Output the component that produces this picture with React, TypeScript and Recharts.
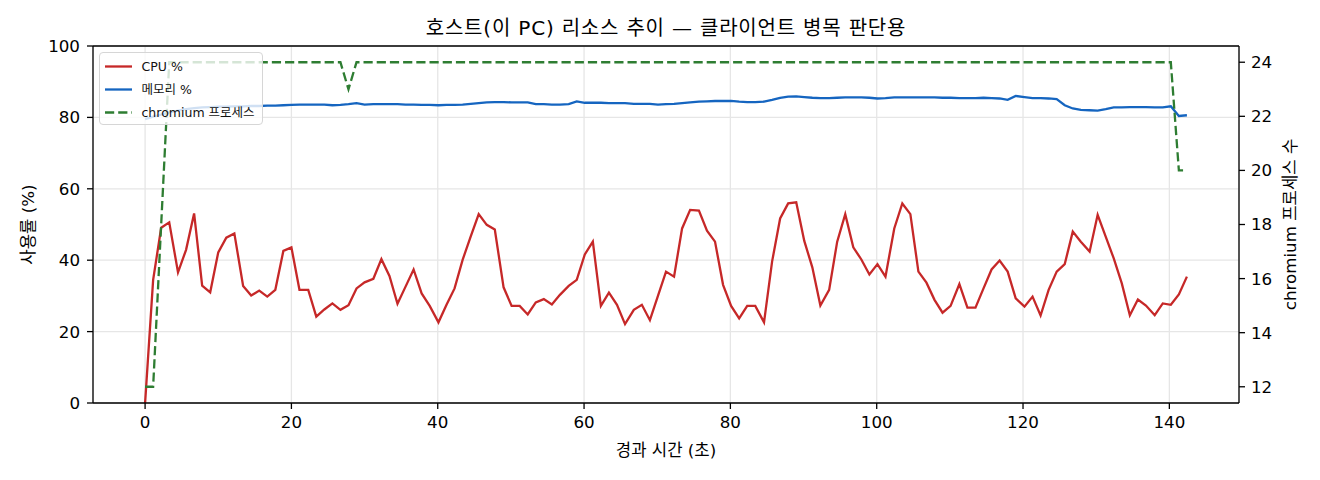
import React from 'react';
import { ComposedChart, Line, XAxis, YAxis, CartesianGrid, ReferenceLine, Legend, Label } from 'recharts';

const TITLE = '호스트(이 PC) 리소스 추이 — 클라이언트 병목 판단용';
const X_LABEL = '경과 시간 (초)';
const Y_LEFT_LABEL = '사용률 (%)';
const Y_RIGHT_LABEL = 'chromium 프로세스 수';

const X_TICKS = [0, 20, 40, 60, 80, 100, 120, 140];
const Y_LEFT_TICKS = [0, 20, 40, 60, 80, 100];
const Y_RIGHT_TICKS = [12, 14, 16, 18, 20, 22, 24];

const TIMES = [
  0.0, 1.1, 2.2, 3.3, 4.5, 5.6, 6.7, 7.8, 8.9, 10.0,
  11.1, 12.2, 13.4, 14.5, 15.6, 16.7, 17.8, 18.9, 20.0, 21.1,
  22.3, 23.4, 24.5, 25.6, 26.7, 27.8, 28.9, 30.0, 31.2, 32.3,
  33.4, 34.5, 35.6, 36.7, 37.8, 38.9, 40.1, 41.2, 42.3, 43.4,
  44.5, 45.6, 46.7, 47.8, 49.0, 50.1, 51.2, 52.3, 53.4, 54.5,
  55.6, 56.7, 57.9, 59.0, 60.1, 61.2, 62.3, 63.4, 64.5, 65.6,
  66.8, 67.9, 69.0, 70.1, 71.2, 72.3, 73.4, 74.5, 75.7, 76.8,
  77.9, 79.0, 80.1, 81.2, 82.3, 83.4, 84.6, 85.7, 86.8, 87.9,
  89.0, 90.1, 91.2, 92.3, 93.5, 94.6, 95.7, 96.8, 97.9, 99.0,
  100.1, 101.2, 102.4, 103.5, 104.6, 105.7, 106.8, 107.9, 109.0, 110.1,
  111.3, 112.4, 113.5, 114.6, 115.7, 116.8, 117.9, 119.0, 120.2, 121.3,
  122.4, 123.5, 124.6, 125.7, 126.8, 127.9, 129.1, 130.2, 131.3, 132.4,
  133.5, 134.6, 135.7, 136.8, 138.0, 139.1, 140.2, 141.3, 142.4,
];

const CPU = [
  0, 34.5, 49.1, 50.6, 36.6, 42.9, 53.1, 32.9, 31.0, 42.2,
  46.3, 47.5, 32.8, 30.1, 31.5, 29.8, 31.7, 42.6, 43.6, 31.7,
  31.7, 24.2, 26.2, 27.9, 26.1, 27.4, 32.1, 33.8, 34.8, 40.3,
  35.6, 27.8, 32.6, 37.4, 30.7, 27.2, 22.6, 27.5, 32.1, 40.1,
  46.6, 52.9, 49.9, 48.6, 32.4, 27.2, 27.2, 24.8, 28.2, 29.1,
  27.6, 30.3, 32.8, 34.5, 41.6, 45.2, 27.2, 30.9, 27.5, 22.1,
  26.1, 27.5, 23.2, 30.0, 36.8, 35.4, 48.9, 54.1, 53.9, 48.3,
  45.2, 33.1, 27.2, 23.7, 27.2, 27.2, 22.6, 39.6, 51.7, 55.9,
  56.2, 45.4, 38.0, 27.3, 31.7, 45.2, 52.9, 43.6, 40.2, 36.0,
  38.9, 35.4, 48.9, 55.9, 52.9, 36.8, 33.7, 28.9, 25.3, 27.2,
  33.3, 26.7, 26.7, 32.1, 37.4, 39.9, 36.8, 29.3, 27.0, 29.8,
  24.5, 31.7, 36.8, 38.9, 48.0, 45.2, 42.4, 52.7, 46.6, 40.5,
  33.5, 24.6, 29.0, 27.3, 24.6, 27.9, 27.5, 30.4, 35.4,
];

const MEMORY = [
  79.5, 80.2, 80.8, 81.4, 81.9, 82.3, 82.6, 82.8, 82.9, 83.0,
  83.0, 83.1, 83.1, 83.2, 83.2, 83.3, 83.3, 83.4, 83.5, 83.6,
  83.6, 83.6, 83.6, 83.4, 83.5, 83.7, 84.0, 83.6, 83.7, 83.7,
  83.7, 83.7, 83.6, 83.6, 83.5, 83.5, 83.4, 83.5, 83.5, 83.6,
  83.8, 84.0, 84.2, 84.3, 84.3, 84.2, 84.2, 84.2, 83.7, 83.7,
  83.6, 83.6, 83.7, 84.5, 84.1, 84.1, 84.1, 84.0, 84.0, 84.0,
  83.8, 83.8, 83.8, 83.6, 83.7, 83.8, 84.0, 84.2, 84.4, 84.5,
  84.6, 84.6, 84.6, 84.4, 84.3, 84.3, 84.4, 84.9, 85.5, 85.8,
  85.9, 85.7, 85.5, 85.4, 85.4, 85.5, 85.6, 85.6, 85.6, 85.5,
  85.3, 85.4, 85.6, 85.6, 85.6, 85.6, 85.6, 85.6, 85.5, 85.5,
  85.4, 85.4, 85.4, 85.5, 85.4, 85.3, 84.9, 86.0, 85.7, 85.4,
  85.4, 85.3, 85.1, 83.4, 82.5, 82.1, 82.0, 81.9, 82.3, 82.8,
  82.8, 82.9, 82.9, 82.9, 82.8, 82.8, 83.1, 80.4, 80.6,
];

const CHROMIUM = [
  12, 12, 18, 24, 24, 24, 24, 24, 24, 24,
  24, 24, 24, 24, 24, 24, 24, 24, 24, 24,
  24, 24, 24, 24, 24, 23, 24, 24, 24, 24,
  24, 24, 24, 24, 24, 24, 24, 24, 24, 24,
  24, 24, 24, 24, 24, 24, 24, 24, 24, 24,
  24, 24, 24, 24, 24, 24, 24, 24, 24, 24,
  24, 24, 24, 24, 24, 24, 24, 24, 24, 24,
  24, 24, 24, 24, 24, 24, 24, 24, 24, 24,
  24, 24, 24, 24, 24, 24, 24, 24, 24, 24,
  24, 24, 24, 24, 24, 24, 24, 24, 24, 24,
  24, 24, 24, 24, 24, 24, 24, 24, 24, 24,
  24, 24, 24, 24, 24, 24, 24, 24, 24, 24,
  24, 24, 24, 24, 24, 24, 24, 20, 20,
];

const SERIES_NAMES = ['CPU %', '메모리 %', 'chromium 프로세스'];

const rows = TIMES.map((t, i) => ({ t, cpu: CPU[i], mem: MEMORY[i], chrom: CHROMIUM[i] }));

const FONT = "'DejaVu Sans', 'Noto Sans CJK KR', sans-serif";
const RED = '#c62828';
const BLUE = '#1565c0';
const GREEN = '#2e7d32';
const DASH = '9.2 4';
const LW = 2.3;

const legendItems = [
  { label: SERIES_NAMES[0], color: RED, dash: undefined as string | undefined },
  { label: SERIES_NAMES[1], color: BLUE, dash: undefined as string | undefined },
  { label: SERIES_NAMES[2], color: GREEN, dash: DASH },
];

const renderLegend = () => (
  <div
    style={{
      width: 164,
      height: 73,
      boxSizing: 'border-box',
      border: '1px solid #d6d6d6',
      borderRadius: 4,
      background: 'rgba(255,255,255,0.8)',
      position: 'relative',
      fontFamily: FONT,
      fontSize: 12.5,
      color: '#111',
    }}
  >
    {legendItems.map((it, k) => (
      <div
        key={k}
        style={{
          position: 'absolute',
          left: 5,
          top: 1.5 + 23 * k,
          height: 23,
          display: 'flex',
          alignItems: 'center',
          whiteSpace: 'nowrap',
        }}
      >
        <svg width={28} height={23} style={{ display: 'block' }}>
          <line x1={0} x2={27} y1={11.5} y2={11.5} stroke={it.color} strokeWidth={LW} strokeDasharray={it.dash} />
        </svg>
        <span style={{ marginLeft: 8.5, lineHeight: '23px' }}>{it.label}</span>
      </div>
    ))}
  </div>
);

const xLabel = (props: any) => {
  const vb = props.viewBox || {};
  const cx = vb.x + vb.width / 2;
  return (
    <text x={cx} y={vb.y + 47} textAnchor="middle" dominantBaseline="central" fontFamily={FONT} fontSize={16.7} fill="#000">
      {X_LABEL}
    </text>
  );
};

const yLeftLabel = (props: any) => {
  const vb = props.viewBox || {};
  const cx = vb.x + 28;
  const cy = vb.y + vb.height / 2;
  return (
    <text x={cx} y={cy} transform={`rotate(-90 ${cx} ${cy})`} textAnchor="middle" dominantBaseline="central" fontFamily={FONT} fontSize={16.7} fill="#000">
      {Y_LEFT_LABEL}
    </text>
  );
};

const yRightLabel = (props: any) => {
  const vb = props.viewBox || {};
  const cx = vb.x + 51;
  const cy = vb.y + vb.height / 2;
  return (
    <text x={cx} y={cy} transform={`rotate(-90 ${cx} ${cy})`} textAnchor="middle" dominantBaseline="central" fontFamily={FONT} fontSize={16.7} fill="#000">
      {Y_RIGHT_LABEL}
    </text>
  );
};

const tickStyle = { fill: '#000', fontSize: 16.7, fontFamily: FONT };
const axisStroke = { stroke: '#000', strokeWidth: 1.3 };

export default function App() {
  return (
    <div style={{ position: 'absolute', left: 0, top: 0, width: 1320, height: 480, background: '#fff' }}>
      <div
        style={{
          position: 'absolute',
          left: 93,
          width: 1146,
          top: 14,
          height: 28,
          lineHeight: '28px',
          textAlign: 'center',
          fontFamily: FONT,
          fontSize: 20,
          letterSpacing: '0.8px',
          color: '#000',
          whiteSpace: 'nowrap',
        }}
      >
        {TITLE}
      </div>
      <ComposedChart width={1320} height={480} data={rows} margin={{ top: 46, right: 0, bottom: 0, left: 0 }}>
        <CartesianGrid yAxisId="left" stroke="#e6e6e6" strokeWidth={1.3} />
        <XAxis
          dataKey="t"
          type="number"
          domain={[-7.12, 149.52]}
          ticks={X_TICKS}
          allowDataOverflow
          height={77}
          tick={tickStyle}
          tickSize={6}
          tickMargin={7}
          axisLine={axisStroke}
          tickLine={axisStroke}
        >
          <Label content={xLabel} />
        </XAxis>
        <YAxis
          yAxisId="left"
          domain={[0, 100]}
          ticks={Y_LEFT_TICKS}
          width={93}
          tick={tickStyle}
          tickSize={6}
          tickMargin={7}
          axisLine={axisStroke}
          tickLine={axisStroke}
        >
          <Label content={yLeftLabel} />
        </YAxis>
        <YAxis
          yAxisId="right"
          orientation="right"
          domain={[11.4, 24.6]}
          ticks={Y_RIGHT_TICKS}
          allowDataOverflow
          width={81}
          tick={tickStyle}
          tickSize={6}
          tickMargin={6}
          axisLine={axisStroke}
          tickLine={axisStroke}
        >
          <Label content={yRightLabel} />
        </YAxis>
        <ReferenceLine yAxisId="left" y={100} stroke="#000" strokeWidth={1.3} />
        <Line yAxisId="left" type="linear" dataKey="cpu" name={SERIES_NAMES[0]} stroke={RED} strokeWidth={LW} dot={false} activeDot={false} isAnimationActive={false} />
        <Line yAxisId="left" type="linear" dataKey="mem" name={SERIES_NAMES[1]} stroke={BLUE} strokeWidth={LW} dot={false} activeDot={false} isAnimationActive={false} />
        <Line yAxisId="right" type="linear" dataKey="chrom" name={SERIES_NAMES[2]} stroke={GREEN} strokeWidth={LW} strokeDasharray={DASH} dot={false} activeDot={false} isAnimationActive={false} />
        <Legend
          layout="horizontal"
          verticalAlign="middle"
          align="center"
          content={renderLegend}
          wrapperStyle={{ left: 99, top: 52, width: 164, height: 73 }}
        />
      </ComposedChart>
    </div>
  );
}
